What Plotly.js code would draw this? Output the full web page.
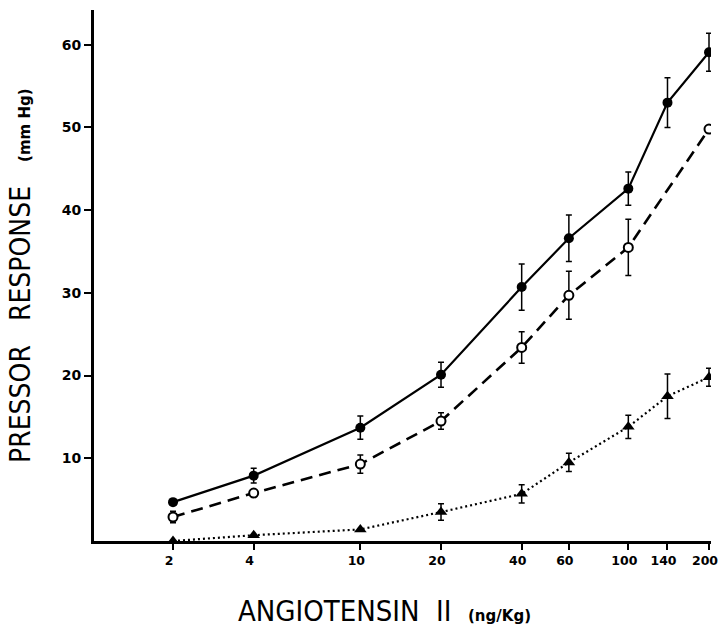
<!DOCTYPE html>
<html>
<head>
<meta charset="utf-8">
<script src="https://cdn.plot.ly/plotly-3.0.1.min.js"></script>
<style>html,body{margin:0;padding:0;background:#fff;}#chart{width:724px;height:629px;}</style>
</head>
<body>
<div id="chart"></div>
<script>
// Doses (ng/Kg) and tick labels
const doses = [2, 4, 10, 20, 40, 60, 100, 140, 200];
const doseTickText = ["2", "4", "10", "20", "40", "60", "100", "140", "200"];
const yTickVals = [10, 20, 30, 40, 50, 60];

// Filled circles (solid line)
const filledX = [2, 4, 10, 20, 40, 60, 100, 140, 200];
const filledY = [4.7, 7.9, 13.7, 20.1, 30.7, 36.6, 42.6, 53.0, 59.1];
const filledErr = [0, 0.9, 1.4, 1.5, 2.8, 2.8, 2.0, 3.0, 2.3];

// Open circles (dashed line)
const openX = [2, 4, 10, 20, 40, 60, 100, 200];
const openY = [2.9, 5.8, 9.3, 14.5, 23.4, 29.7, 35.5, 49.8];
const openErr = [0.7, 0.3, 1.1, 1.0, 1.9, 2.9, 3.4, 0];

// Triangles (dotted line)
const triX = [2, 4, 10, 20, 40, 60, 100, 140, 200];
const triY = [0, 0.7, 1.4, 3.5, 5.7, 9.5, 13.8, 17.5, 19.8];
const triErr = [0, 0, 0, 1.0, 1.1, 1.1, 1.4, 2.7, 1.1];

const errStyle = (arr) => ({type: 'data', array: arr, visible: true, color: '#000', thickness: 1.5, width: 3});

const traces = [
  {x: triX, y: triY, mode: 'lines+markers', type: 'scatter',
   line: {color: '#000', width: 2.2, dash: '2px,3px'},
   marker: {symbol: 'triangle-up', size: 11, color: '#000'},
   error_y: errStyle(triErr), showlegend: false},
  {x: openX, y: openY, mode: 'lines+markers', type: 'scatter',
   line: {color: '#000', width: 2.6, dash: '12px,7px'},
   marker: {symbol: 'circle', size: 9, color: '#fff', line: {color: '#000', width: 2}},
   error_y: errStyle(openErr), showlegend: false},
  {x: filledX, y: filledY, mode: 'lines+markers', type: 'scatter',
   line: {color: '#000', width: 2.2},
   marker: {symbol: 'circle', size: 10, color: '#000'},
   error_y: errStyle(filledErr), showlegend: false}
];

const W = 617, H = 531, L = 94, T = 10;
const px = (x) => (x - L) / W;
const py = (y) => (T + H - y) / H;
const capFamily = 'Liberation Sans Narrow, DejaVu Sans Condensed, Liberation Sans, Arial, sans-serif';
const NB = '\u00A0';
const small = (s) => '<b><span style="font-size:15px;font-family:DejaVu Sans">' + s + '</span></b>';

const layout = {
  width: 724, height: 629,
  margin: {l: L, r: 13, t: T, b: 88},
  paper_bgcolor: '#fff', plot_bgcolor: '#fff',
  showlegend: false,
  xaxis: {
    type: 'log', range: [0.0062, 2.3085],
    tickvals: doses, ticktext: doseTickText,
    showgrid: false, zeroline: false,
    showline: true, linecolor: '#000', linewidth: 2.5,
    ticks: 'outside', ticklen: 6, tickwidth: 2, tickcolor: '#000',
    ticklabelshift: -4,
    tickfont: {family: 'DejaVu Sans, Arial, sans-serif', size: 12.5, color: '#000', weight: 'bold'}
  },
  yaxis: {
    range: [0, 64.2],
    tickvals: yTickVals,
    showgrid: false, zeroline: false,
    showline: true, linecolor: '#000', linewidth: 3,
    ticks: 'outside', ticklen: 7, tickwidth: 2, tickcolor: '#000',
    tickfont: {family: 'DejaVu Sans, Arial, sans-serif', size: 14, color: '#000', weight: 'bold'}
  },
  annotations: [
    {xref: 'paper', yref: 'paper', x: px(20), y: py(276), textangle: -90, showarrow: false,
     xanchor: 'center', yanchor: 'middle',
     text: 'PRESSOR' + NB.repeat(3) + 'RESPONSE' + NB.repeat(3) + small('(mm Hg)'),
     font: {family: capFamily, size: 28, color: '#000'}},
    {xref: 'paper', yref: 'paper', x: px(384), y: py(611), showarrow: false,
     xanchor: 'center', yanchor: 'middle',
     text: 'ANGIOTENSIN' + NB.repeat(2) + 'II' + NB.repeat(2) + small('(ng/Kg)'),
     font: {family: capFamily, size: 29, color: '#000'}}
  ]
};

Plotly.newPlot('chart', traces, layout, {displayModeBar: false, staticPlot: true});
</script>
</body>
</html>
